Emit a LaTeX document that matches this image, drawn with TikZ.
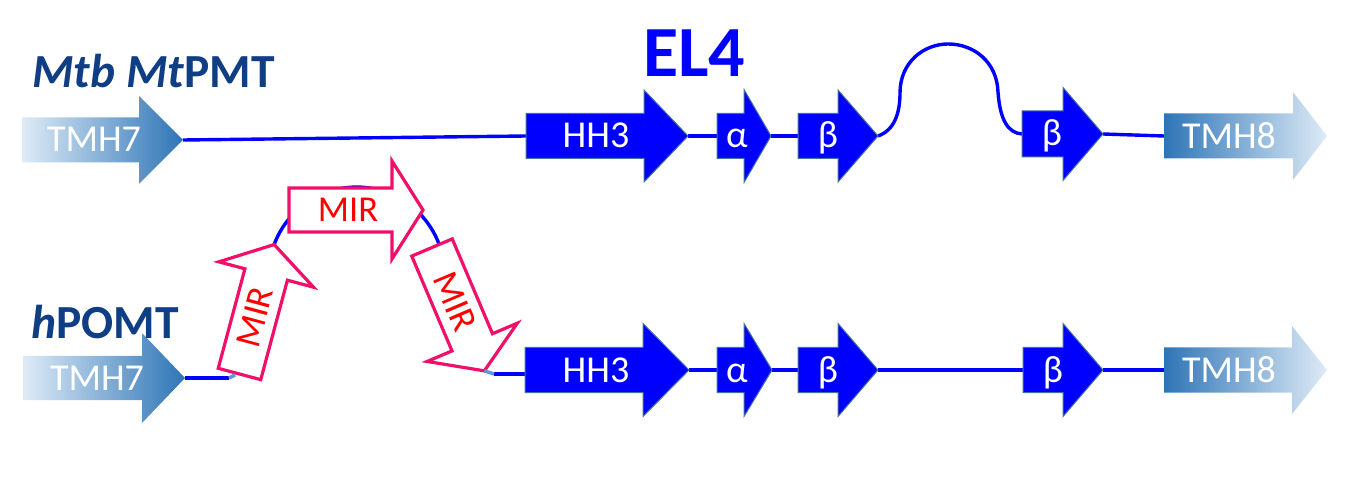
\documentclass[tikz,border=0pt]{standalone}
\usepackage{fontspec}
\setmainfont{Carlito}
\definecolor{lineblue}{HTML}{0000FF}
\definecolor{ltblue}{HTML}{5B9BD5}
\definecolor{blkblue}{HTML}{0000FF}
\definecolor{blkedge}{HTML}{41719C}
\definecolor{tmlight}{HTML}{DEEBF7}
\definecolor{tmdark}{HTML}{2E75B6}
\definecolor{mirpink}{HTML}{F0106A}
\definecolor{mirred}{HTML}{FF0000}
\definecolor{titleblue}{HTML}{103E84}
% #1 name, #2 style, #3 x0, #4 head base, #5 tip, #6 yc, #7 body half, #8 head half
\newcommand\blkarrow[8]{%
  \path[#2] (#3,#6-#7) -- (#4,#6-#7) -- (#4,#6-#8) -- (#5,#6) -- (#4,#6+#8) -- (#4,#6+#7) -- (#3,#6+#7) -- cycle;
}
\newcommand\mirarrow[3]{% #1 name, #2 base point, #3 angle
  \begin{scope}[shift={#2}, rotate=#3]
    \path[mirbox] (0,-22) -- (103,-22) -- (103,-49) -- (134,0) -- (103,49) -- (103,22) -- (0,22) -- cycle;
    \node[mirtxt] (#1) at (59,0) {MIR};
    \coordinate (#1-w) at (0,0);
    \coordinate (#1-e) at (134,0);
  \end{scope}
}
\begin{document}
\begin{tikzpicture}[x=1pt,y=-1pt,
  conn/.style={draw=lineblue, line width=3.4pt},
  connlight/.style={draw=ltblue, line width=3.4pt},
  blkfill/.style={fill=blkblue, draw=blkedge, line width=1pt},
  tmhR/.style={left color=tmlight, right color=tmdark},
  tmhL/.style={left color=tmdark, right color=tmlight},
  lbl/.style={text=white, font=\fontsize{38}{44}\selectfont, inner sep=0pt, anchor=base},
  mirbox/.style={draw=mirpink, fill=white, line width=3.2pt, line join=miter},
  mirtxt/.style={text=mirred, font=\fontsize{36.5}{42}\selectfont, inner sep=0pt, transform shape},
  title/.style={text=titleblue, font=\bfseries\fontsize{47.5}{54}\selectfont, inner sep=0pt, anchor=base west}]
\useasboundingbox (0,0) rectangle (1366,494);

% ---------- end points of the block arrows
% top row
\coordinate (tA-w) at (22,140);   \coordinate (tA-e) at (183,140);
\coordinate (hA-w) at (526,136);  \coordinate (hA-e) at (688,136);
\coordinate (aA-w) at (717,136);  \coordinate (aA-e) at (771,136);
\coordinate (bA-w) at (798,136);  \coordinate (bA-e) at (878,136);
\coordinate (cA-w) at (1022,134); \coordinate (cA-e) at (1103,134);
\coordinate (uA-w) at (1164,136); \coordinate (uA-e) at (1327,136);
% bottom row
\coordinate (tB-w) at (23,378);   \coordinate (tB-e) at (185,378);
\coordinate (hB-w) at (525,370);  \coordinate (hB-e) at (689,370);
\coordinate (aB-w) at (717,370);  \coordinate (aB-e) at (772,370);
\coordinate (bB-w) at (798,370);  \coordinate (bB-e) at (878,370);
\coordinate (cB-w) at (1023,370); \coordinate (cB-e) at (1103,370);
\coordinate (uB-w) at (1164,370); \coordinate (uB-e) at (1327,370);

% ---------- connectors, top row
\draw[conn] (tA-e) -- (hA-w);
\draw[conn] (hA-e) -- (aA-w);
\draw[conn] (aA-e) -- (bA-w);
\draw[conn] (bA-e) .. controls (895,130) and (900,112) .. (900,93)
  .. controls (900,62) and (924,44) .. (948,44)
  .. controls (974,44) and (997,62) .. (998,92)
  .. controls (1000,120) and (1008,133) .. (cA-w);
\draw[conn] (cA-e) -- (uA-w);

% ---------- connectors, bottom row
\coordinate (j1) at (229,378);
\coordinate (j2) at (494,374);
\coordinate (j3) at (525,374);
\draw[conn] (tB-e) -- (j1);
\draw[conn] (hB-e) -- (aB-w);
\draw[conn] (aB-e) -- (bB-w);
\draw[conn] (bB-e) -- (cB-w);
\draw[conn] (cB-e) -- (uB-w);
\draw[conn] (274,245) arc[start angle=200, end angle=340, radius=88];
\draw[conn] (j2) -- (j3);

% ---------- block arrows, top row
\blkarrow{tA}{tmhR}{22}{139}{183}{140}{22.5}{44}
\blkarrow{hA}{blkfill}{526}{644}{688}{136}{22.5}{46}
\blkarrow{aA}{blkfill}{717}{744}{771}{136}{22.5}{46.5}
\blkarrow{bA}{blkfill}{798}{838}{878}{136}{22.5}{46}
\blkarrow{cA}{blkfill}{1022}{1063}{1103}{134}{23}{46.5}
\blkarrow{uA}{tmhL}{1164}{1293}{1327}{136}{22.5}{44}
% ---------- block arrows, bottom row
\blkarrow{tB}{tmhR}{23}{142}{185}{378}{22}{45}
\blkarrow{hB}{blkfill}{525}{643}{689}{370}{22.5}{46.5}
\blkarrow{aB}{blkfill}{717}{744}{772}{370}{22.5}{46.5}
\blkarrow{bB}{blkfill}{798}{838}{878}{370}{22.5}{46.5}
\blkarrow{cB}{blkfill}{1023}{1063}{1103}{370}{22.5}{46.5}
\blkarrow{uB}{tmhL}{1164}{1292}{1327}{370}{22.5}{44}

% ---------- MIR arrows
\mirarrow{mir1}{(239.5,374)}{75}
\mirarrow{mir2}{(289,210)}{0}
\mirarrow{mir3}{(432,247.5)}{-67}
\draw[connlight] (j1) -- (235,375);
\draw[connlight] (mir3-e) -- (j2);

% ---------- labels
\node[lbl] (lt7a) at (94,152) {TMH7};
\node[lbl] (lh3a) at (596,148) {HH3};
\node[lbl] (laa) at (737,148) {α};
\node[lbl] (lba) at (828,148) {β};
\node[lbl] (lca) at (1052,146) {β};
\node[lbl] (lt8a) at (1229,149) {TMH8};
\node[lbl] (lt7b) at (97,390) {TMH7};
\node[lbl] (lh3b) at (596,383) {HH3};
\node[lbl] (lab) at (737,383) {α};
\node[lbl] (lbb) at (828,383) {β};
\node[lbl] (lcb) at (1053,383) {β};
\node[lbl] (lt8b) at (1229,383) {TMH8};

\node[title] (t1) at (32,88) {\textit{Mtb Mt}PMT};
\node[title] (t2) at (31,339) {\textit{h}POMT};
\node[title, text=lineblue, font=\bfseries\fontsize{72}{80}\selectfont] (el4) at (643,77) {EL4};
\end{tikzpicture}
\end{document}
